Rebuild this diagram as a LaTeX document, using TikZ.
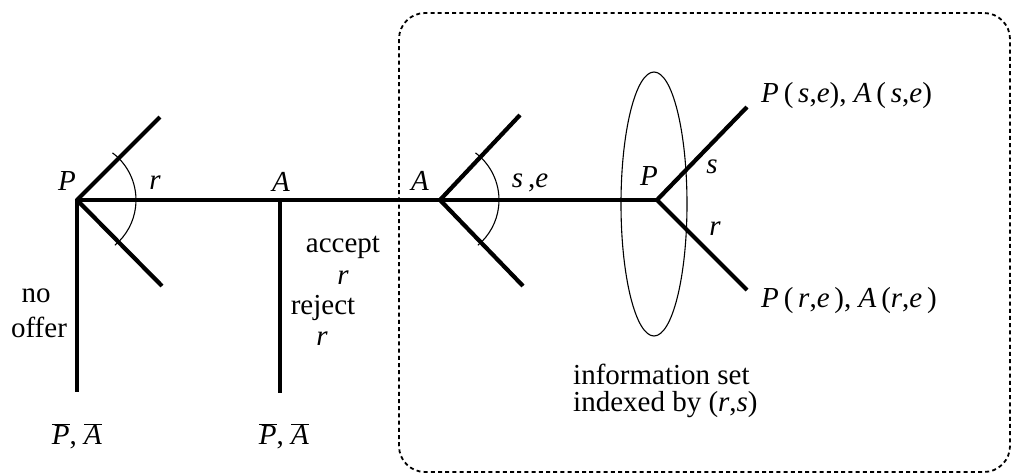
\documentclass[tikz,border=0pt]{standalone}
\usepackage{fontspec}
\setmainfont{Liberation Serif}
\newcommand{\bP}{$\overline{\mbox{\textit{P}}}$}
\newcommand{\bA}{$\overline{\mbox{\textit{A}}}$}
\begin{document}
\begin{tikzpicture}[x=1pt,y=-1pt,
  every node/.style={font=\fontsize{29}{33}\selectfont, inner sep=0pt},
  mainline/.style={line width=3.1pt},
  branch/.style={line width=4.2pt},
  thin/.style={line width=1.1pt},
  lbl/.style={anchor=center},
  box/.style={line width=1.8pt, dash pattern=on 4pt off 3.2pt, rounded corners=26pt}]
\useasboundingbox (0,0) rectangle (1013,474);
% vertices
\coordinate (P1) at (77,200);
\coordinate (A1) at (280,200);
\coordinate (A2) at (440,200);
\coordinate (P2) at (657,200);
\coordinate (P1u) at (160,117);
\coordinate (P1d) at (162,286);
\coordinate (P1b) at (77,392);
\coordinate (A1b) at (280,393);
\coordinate (A2u) at (520,115);
\coordinate (A2d) at (523,286);
\coordinate (P2u) at (747,107);
\coordinate (P2d) at (747,290);
% dashed box
\draw[box] (399,13) rectangle (1010,472);
% lines
\draw[mainline] (P1) -- (A1) -- (A2) -- (P2);
\draw[mainline] (P1) -- (P1b);
\draw[mainline] (A1) -- (A1b);
\draw[branch, line join=round] (P1u) -- (P1) -- (P1d);
\draw[branch, line join=round] (A2u) -- (A2) -- (A2d);
\draw[branch, line join=round] (P2u) -- (P2) -- (P2d);
% arcs
\draw[thin] (P1) ++(53:59pt) arc[start angle=53, end angle=-50, radius=59pt];
\draw[thin] (A2) ++(53:59pt) arc[start angle=53, end angle=-50, radius=59pt];
% information set ellipse
\draw[thin] (654,204) ellipse [x radius=33pt, y radius=132pt];
% labels
\node[lbl] (lP1) at (67,181) {\textit{P}};
\node[lbl] (lr1) at (155,183) {\textit{r}};
\node[lbl] (lA1) at (281,182) {\textit{A}};
\node[lbl] (lA2) at (420,181) {\textit{A}};
\node[lbl] (lse) at (530,183) {\textit{s}\,,\textit{e}};
\node[lbl] (lP2) at (649,176) {\textit{P}};
\node[lbl] (ls2) at (712,167) {\textit{s}};
\node[lbl] (lr2) at (715,229) {\textit{r}};
\node[lbl] (lacc) at (343,247) {accept};
\node[lbl] (lacr) at (343,278) {\textit{r}};
\node[lbl] (lrej) at (323,308) {reject};
\node[lbl] (lrjr) at (322,339) {\textit{r}};
\node[lbl] (lno) at (36,296) {no};
\node[lbl] (loff) at (39,327) {offer};
\node[lbl] (o1) at (77,436) {\bP, \bA};
\node[lbl] (o2) at (284,436) {\bP, \bA};
\node[anchor=west] (o3) at (761,96) {\textit{P}\,(\,\textit{s},\textit{e}), \textit{A}\,(\,\textit{s},\textit{e})};
\node[anchor=west] (o4) at (761,301) {\textit{P}\,(\,\textit{r},\textit{e}\,), \textit{A}\,(\textit{r},\textit{e}\,)};
\node[anchor=west] (inf1) at (573,374) {information set};
\node[anchor=west] (inf2) at (573,405) {indexed by (\textit{r},\textit{s})};
\end{tikzpicture}
\end{document}
